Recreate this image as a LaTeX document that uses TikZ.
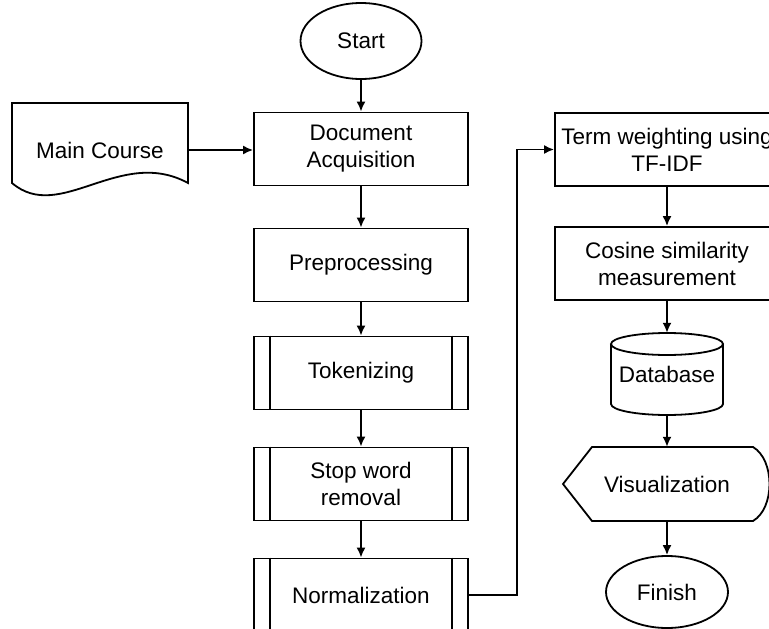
\documentclass[tikz,border=0pt]{standalone}
\usepackage{fontspec}
\setmainfont{Liberation Sans}
\usetikzlibrary{arrows.meta,shapes.geometric}
\begin{document}
\begin{tikzpicture}[x=1pt,y=-1pt,
  every node/.style={font=\fontsize{22.5}{27}\selectfont, inner sep=0pt, align=center},
  ln/.style={line width=1.8pt, line join=miter},
  box/.style={ln, draw, rectangle, minimum width=214pt, minimum height=73pt},
  rbox/.style={ln, draw, rectangle, minimum width=224pt, minimum height=73pt},
  term/.style={ln, draw, ellipse, minimum width=121pt, minimum height=76pt},
  arr/.style={ln, -{Latex[length=10pt,width=9pt]}}]
\useasboundingbox (0,0) rectangle (769,629);
\clip (0,0) rectangle (769,629);
% left column
\node[term] (start) at (361,41) {Start};
\node[box] (acq) at (361,149) {Document\\Acquisition};
\node[box] (pre) at (361,265) {Preprocessing};
\node[box] (tok) at (361,373) {Tokenizing};
\node[box] (stop) at (361,484) {Stop word\\removal};
\node[box] (norm) at (361,595) {Normalization};
\foreach \n in {tok,stop,norm}{
  \draw[ln] ([xshift=17pt]\n.north west) -- ([xshift=17pt]\n.south west);
  \draw[ln] ([xshift=-17pt]\n.north east) -- ([xshift=-17pt]\n.south east);
}
% document
\node[minimum width=176pt, minimum height=40pt] (mc) at (100,150) {Main Course};
\draw[ln] (12,103) -- (188,103) -- (188,183) .. controls (120,146) and (60,224) .. (12,183) -- cycle;
% right column
\node[rbox] (tfidf) at (667,149.5) {Term weighting using\\TF-IDF};
\node[rbox] (cos) at (667,263.5) {Cosine similarity\\measurement};
\node[minimum width=112pt, minimum height=82pt] (db) at (667,374) {Database};
\draw[ln] (667,344) ellipse [x radius=56pt, y radius=11pt];
\draw[ln] (611,344) -- (611,404) arc[start angle=180, end angle=360, x radius=56pt, y radius=11pt] -- (723,344);
\node[minimum width=208pt, minimum height=74pt] (vis) at (667,484) {Visualization};
\draw[ln] (563,484) -- (592,447) -- (753,447) .. controls (775,460) and (775,508) .. (753,521) -- (592,521) -- cycle;
\node[term, minimum width=122pt, minimum height=72pt] (fin) at (667,592) {Finish};
% connectors
\draw[arr] (start) -- (acq);
\draw[arr] (mc.east) -- (mc.east -| acq.west);
\draw[arr] (acq) -- (pre);
\draw[arr] (pre) -- (tok);
\draw[arr] (tok) -- (stop);
\draw[arr] (stop) -- (norm);
\draw[arr] (norm.east) -- ++(48,0) |- (tfidf.west);
\draw[arr] (tfidf) -- (cos);
\draw[arr] (cos.south) -- (db.north);
\draw[arr] (db.south) -- (vis.north);
\draw[arr] (vis.south) -- (fin.north);
\end{tikzpicture}
\end{document}
